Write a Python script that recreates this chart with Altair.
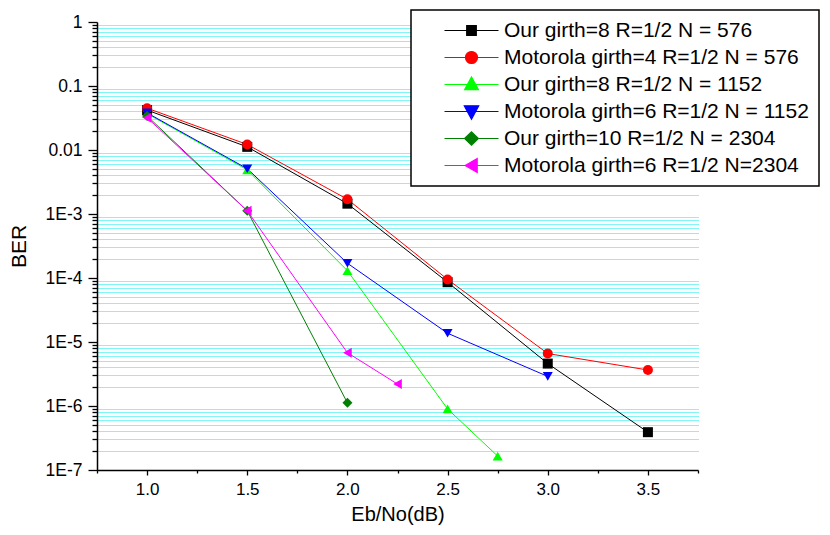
import altair as alt
import pandas as pd
import math

# ---------------- data ----------------
series_names = [
    "Our girth=8 R=1/2 N = 576",
    "Motorola girth=4 R=1/2 N = 576",
    "Our girth=8 R=1/2 N = 1152",
    "Motorola girth=6 R=1/2 N = 1152",
    "Our girth=10 R=1/2 N = 2304",
    "Motorola girth=6 R=1/2 N=2304",
]
series_colors = ["#000000", "#FF0000", "#00FF00", "#0000FF", "#008000", "#FF00FF"]
series_shapes = ["square", "circle", "triangle-up", "triangle-down", "diamond", "triangle-left"]

x_our576 = [1.0, 1.5, 2.0, 2.5, 3.0, 3.5]
y_our576 = [0.042, 0.0112, 0.00145, 8.6e-5, 4.6e-6, 3.9e-7]
x_mot576 = [1.0, 1.5, 2.0, 2.5, 3.0, 3.5]
y_mot576 = [0.045, 0.0122, 0.0017, 9.5e-5, 6.6e-6, 3.65e-6]
x_our1152 = [1.0, 1.5, 2.0, 2.5, 2.75]
y_our1152 = [0.037, 0.0049, 1.3e-4, 9.0e-7, 1.65e-7]
x_mot1152 = [1.0, 1.5, 2.0, 2.5, 3.0]
y_mot1152 = [0.038, 0.0051, 1.7e-4, 1.37e-5, 2.9e-6]
x_our2304 = [1.0, 1.5, 2.0]
y_our2304 = [0.034, 0.00112, 1.12e-6]
x_mot2304 = [1.0, 1.5, 2.0, 2.25]
y_mot2304 = [0.032, 0.00112, 6.8e-6, 2.2e-6]

y_major_ticks = [1e-7, 1e-6, 1e-5, 1e-4, 1e-3, 1e-2, 1e-1, 1.0]
y_major_labels = ["1E-7", "1E-6", "1E-5", "1E-4", "1E-3", "0.01", "0.1", "1"]
y_minor_ticks = [k * 10.0 ** e for e in range(-7, 0) for k in range(2, 10)]
x_major_ticks = [1.0, 1.5, 2.0, 2.5, 3.0, 3.5]
x_minor_ticks = [0.75, 1.25, 1.75, 2.25, 2.75, 3.25, 3.75]

# legend symbols: a horizontal line through the marker
legend_paths = [
    "M-4.5,0H4.5M-0.8,-0.8H0.8V0.8H-0.8Z",
    "M-4.5,0H4.5M-1,0C-1,-0.552,-0.552,-1,0,-1C0.552,-1,1,-0.552,1,0C1,0.552,0.552,1,0,1C-0.552,1,-1,0.552,-1,0Z",
    "M-4.5,0H4.5M-1.15,0.85L1.15,0.85L0,-1.25Z",
    "M-4.5,0H4.5M-1.2,-0.95L1.2,-0.95L0,1.3Z",
    "M-4.5,0H4.5M-1.15,0L0,-1.1L1.15,0L0,1.1Z",
    "M-4.5,0H4.5M-1.05,0L0.95,-1.15L0.95,1.15Z",
]

rows = []
for name, xs, ys in [
    (series_names[0], x_our576, y_our576),
    (series_names[1], x_mot576, y_mot576),
    (series_names[2], x_our1152, y_our1152),
    (series_names[3], x_mot1152, y_mot1152),
    (series_names[4], x_our2304, y_our2304),
    (series_names[5], x_mot2304, y_mot2304),
]:
    for xv, yv in zip(xs, ys):
        rows.append({"series": name, "x": xv, "y": yv, "order": series_names.index(name)})
df = pd.DataFrame(rows)

FONT = "Liberation Sans"

xscale = alt.Scale(domain=[0.75, 3.75], nice=False, zero=False)
yscale = alt.Scale(type="log", domain=[1e-7, 1], nice=False)
cscale = alt.Scale(domain=series_names, range=series_colors)

exp_map = ",".join("'%d':'%s'" % (round(math.log10(v)), l) for v, l in zip(y_major_ticks, y_major_labels))
y_label_expr = "{" + exp_map + "}['' + round(log(datum.value)/LN10)]"

base = alt.Chart(df)

lines = base.mark_line(strokeWidth=1).encode(
    x=alt.X("x:Q", scale=xscale,
            axis=alt.Axis(values=x_major_ticks, format=".1f", title="Eb/No(dB)", orient="bottom",
                          tickSize=5, labelPadding=6, titlePadding=7, grid=False,
                          labelFontSize=17, titleFontSize=20)),
    y=alt.Y("y:Q", scale=yscale,
            axis=alt.Axis(values=y_major_ticks, labelExpr=y_label_expr, title="BER", orient="left",
                          tickSize=9, labelPadding=6, titlePadding=16, grid=False,
                          labelFontSize=17.5, titleFontSize=21)),
    color=alt.Color("series:N", scale=cscale, legend=None),
    detail="series:N",
    order="order:Q",
)

points = base.mark_point(filled=True, opacity=1, size=100).encode(
    x=alt.X("x:Q", scale=xscale,
            axis=alt.Axis(values=x_minor_ticks, labels=False, title=None, orient="bottom",
                          tickSize=3, grid=False, domain=False)),
    y=alt.Y("y:Q", scale=yscale,
            axis=alt.Axis(values=y_minor_ticks, labels=False, title=None, orient="left",
                          tickSize=5, grid=True, gridColor="#00EDED", gridDash=[1, 1],
                          gridWidth=1, domain=False)),
    color=alt.Color("series:N", scale=cscale, legend=None),
    shape=alt.Shape("series:N", scale=alt.Scale(domain=series_names, range=series_shapes), legend=None),
    order="order:Q",
)

legend_layer = base.transform_filter("datum.x > 100").mark_point(filled=True, opacity=1).encode(
    fill=alt.Fill("series:N", scale=alt.Scale(domain=series_names, range=series_colors),
                  legend=alt.Legend(title=None, orient="none", legendX=314, legendY=-12,
                                    padding=10, symbolOffset=40, labelOffset=22, rowPadding=5,
                                    symbolSize=144, symbolStrokeWidth=1.2,
                                    labelFont=FONT, labelFontSize=21, labelLimit=500,
                                    strokeColor="#000000", fillColor="#FFFFFF")),
    stroke=alt.Stroke("series:N", scale=alt.Scale(domain=series_names, range=series_colors),
                      legend=alt.Legend(title=None, orient="none", legendX=314, legendY=-12)),
    shape=alt.Shape("series:N", scale=alt.Scale(domain=series_names, range=legend_paths),
                    legend=alt.Legend(title=None, orient="none", legendX=314, legendY=-12)),
)

chart = alt.layer(lines, points, legend_layer).resolve_scale(
    shape="independent", fill="independent", stroke="independent"
).resolve_axis(
    x="independent", y="independent"
).properties(
    width=601, height=448,
    autosize=alt.AutoSizeParams(type="none"),
    padding={"left": 89, "top": 14, "right": 124, "bottom": 57},
).configure_view(
    stroke=None
).configure_axis(
    domainColor="#000000", domainWidth=1.5, tickColor="#000000", tickWidth=1.3,
    labelColor="#000000", titleColor="#000000", labelFont=FONT, titleFont=FONT,
    titleFontWeight="normal",
).configure_legend(
    strokeWidth=1.5
)

chart.save("out.html", embed_options={"renderer": "svg", "actions": False})
